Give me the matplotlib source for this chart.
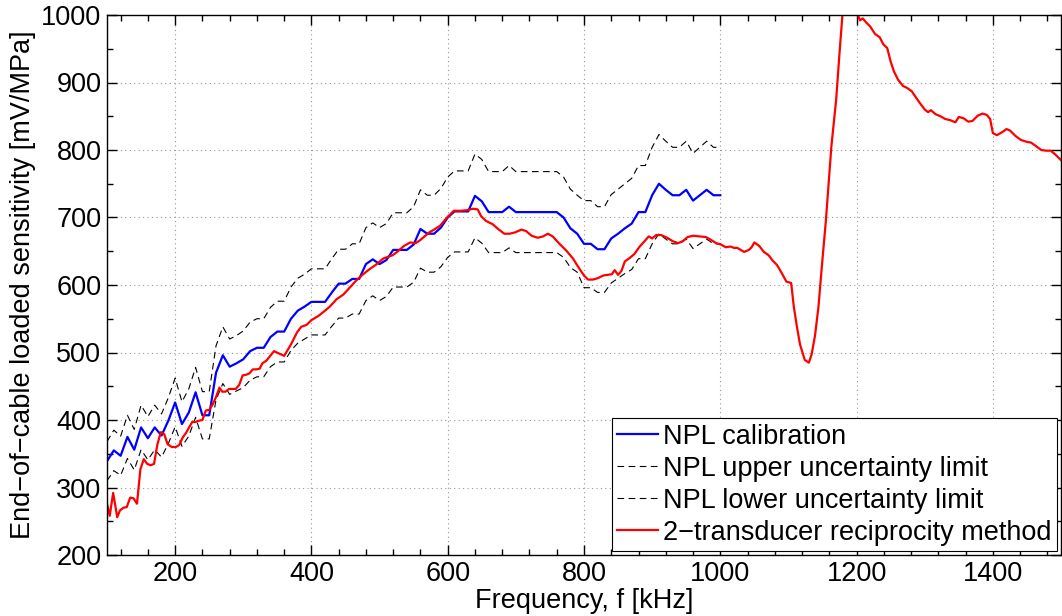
import numpy as np
import matplotlib
matplotlib.use("Agg")
import matplotlib.pyplot as plt
from matplotlib.ticker import MultipleLocator

plt.rcParams['font.family'] = ['Liberation Sans', 'DejaVu Sans']

# NPL calibration, every 10 kHz from 100 to 1000 kHz
npl_f = list(range(100, 1001, 10))
npl_cal = [339, 355, 347, 375, 356, 389, 373, 389, 377, 399,
           426, 394, 411, 441, 407, 407, 470, 496, 479, 484,
           490, 502, 507, 507, 523, 531, 531, 550, 562, 568,
           575, 575, 575, 589, 602, 602, 609, 609, 631, 638,
           631, 637, 652, 652, 652, 660, 683, 676, 676, 685,
           700, 709, 709, 709, 732, 724, 708, 708, 708, 716,
           708, 708, 708, 708, 708, 708, 708, 700, 684, 676,
           661, 661, 653, 653, 669, 676, 684, 691, 708, 708,
           733, 750, 741, 733, 733, 741, 725, 733, 741, 733,
           733]
npl_upper = [368, 385, 376, 407, 386, 422, 405, 422, 409, 433,
             462, 427, 446, 478, 442, 442, 510, 538, 520, 525,
             532, 545, 550, 550, 567, 576, 576, 597, 610, 616,
             624, 624, 624, 639, 653, 653, 661, 661, 685, 692,
             685, 691, 707, 707, 707, 716, 741, 733, 733, 743,
             760, 769, 769, 769, 794, 786, 768, 768, 768, 777,
             768, 768, 768, 768, 768, 768, 768, 760, 742, 733,
             725, 725, 716, 716, 734, 742, 750, 758, 777, 777,
             804, 823, 813, 804, 804, 813, 795, 804, 813, 804,
             804]
npl_lower = [310, 325, 318, 343, 326, 356, 341, 356, 345, 365,
             390, 361, 376, 404, 372, 372, 430, 454, 438, 443,
             448, 459, 464, 464, 479, 486, 486, 503, 514, 520,
             526, 526, 526, 539, 551, 551, 557, 557, 577, 584,
             577, 583, 597, 597, 597, 604, 625, 619, 619, 627,
             641, 649, 649, 649, 670, 662, 648, 648, 648, 655,
             648, 648, 648, 648, 648, 648, 648, 641, 626, 619,
             596, 596, 589, 589, 603, 610, 617, 623, 639, 639,
             661, 676, 668, 661, 661, 668, 654, 661, 668, 661,
             661]

# 2-transducer reciprocity method
recip_f = [100, 104, 109, 115, 119, 124, 129, 134, 139, 144,
           149, 154, 159, 164, 169, 174, 179, 184, 189, 195,
           201, 206, 211, 216, 220, 225, 230, 235, 240, 245,
           250, 255, 260, 265, 269, 274, 279, 289, 294, 299,
           304, 309, 314, 319, 324, 328, 334, 345, 360, 370,
           379, 385, 393, 400, 410, 420, 427, 437, 447, 456,
           466, 476, 486, 496, 505, 513, 519, 527, 536, 545,
           553, 559, 566, 573, 580, 589, 599, 609, 620, 629,
           637, 644, 649, 656, 666, 674, 683, 691, 699, 708,
           715, 723, 732, 740, 747, 754, 764, 774, 784, 792,
           800, 806, 813, 820, 828, 835, 841, 845, 850, 855,
           860, 867, 874, 881, 889, 895, 900, 906, 913, 922,
           930, 938, 945, 952, 960, 969, 979, 986, 994, 1001,
           1008, 1015, 1020, 1025, 1030, 1035, 1042, 1046, 1050, 1057,
           1064, 1071, 1077, 1083, 1090, 1097, 1104, 1108, 1113, 1117,
           1124, 1130, 1134, 1139, 1144, 1149, 1155, 1163, 1170, 1175,
           1180, 1186, 1192, 1197, 1202, 1205, 1209, 1214, 1220, 1227,
           1234, 1239, 1245, 1250, 1255, 1261, 1268, 1274, 1281, 1287,
           1294, 1300, 1305, 1309, 1316, 1323, 1330, 1338, 1345, 1350,
           1357, 1364, 1370, 1378, 1385, 1391, 1396, 1400, 1406, 1413,
           1420, 1425, 1433, 1441, 1450, 1456, 1463, 1471, 1478, 1485,
           1492, 1500]
recip = [276, 258, 292, 256, 266, 270, 271, 285, 284, 276,
         327, 342, 335, 333, 335, 364, 382, 379, 364, 360,
         360, 363, 374, 381, 388, 397, 397, 399, 400, 414,
         415, 423, 434, 448, 442, 442, 446, 446, 452, 466,
         467, 469, 475, 475, 476, 484, 488, 502, 495, 512,
         530, 538, 541, 548, 554, 562, 568, 579, 586, 596,
         607, 616, 624, 631, 639, 642, 644, 650, 658, 663,
         662, 666, 672, 678, 682, 688, 700, 710, 710, 711,
         713, 712, 702, 695, 690, 683, 676, 676, 678, 682,
         680, 673, 670, 672, 676, 672, 661, 651, 639, 626,
         614, 608, 608, 610, 614, 615, 616, 622, 615, 621,
         635, 640, 646, 656, 665, 672, 669, 674, 674, 670,
         665, 662, 665, 671, 673, 672, 671, 667, 662, 660,
         656, 657, 655, 655, 652, 649, 652, 656, 663, 658,
         649, 644, 636, 630, 618, 605, 603, 567, 535, 512,
         489, 485, 497, 525, 567, 627, 696, 805, 874, 944,
         1010, 1060, 1070, 1040, 1000, 992, 995, 989, 983, 972,
         967, 957, 951, 931, 916, 904, 895, 892, 887, 878,
         868, 860, 856, 859, 853, 850, 846, 844, 841, 849,
         847, 842, 843, 851, 854, 852, 846, 825, 822, 826,
         831, 829, 821, 815, 812, 811, 806, 800, 799, 799,
         793, 785]

fig = plt.figure(figsize=(10.62, 6.16), dpi=100)
ax = fig.add_axes([107 / 1062, 61 / 616, 954 / 1062, 540 / 616])

ax.plot(npl_f, npl_cal, color='#0000ff', lw=1.6, label='NPL calibration')
ax.plot(npl_f, npl_upper, color='black', lw=0.8, ls=(0, (6, 4)),
        label='NPL upper uncertainty limit')
ax.plot(npl_f, npl_lower, color='black', lw=0.8, ls=(0, (6, 4)),
        label='NPL lower uncertainty limit')
ax.plot(recip_f, recip, color='#ff0000', lw=1.6,
        label='2\u2212transducer reciprocity method')

ax.set_xlim(100, 1500)
ax.set_ylim(200, 1000)
ax.xaxis.set_major_locator(MultipleLocator(200))
ax.xaxis.set_minor_locator(MultipleLocator(40))
ax.yaxis.set_major_locator(MultipleLocator(100))
ax.yaxis.set_minor_locator(MultipleLocator(50))
ax.tick_params(which='both', direction='in', top=True, right=True,
               labelsize=19.5, width=1, pad=4)
ax.tick_params(which='major', length=7)
ax.tick_params(which='minor', length=4)
ax.grid(True, which='major', ls=(0, (1, 3)), color='0.6', lw=0.8)
for s in ax.spines.values():
    s.set_linewidth(1)

ax.set_xlabel('Frequency, f [kHz]', fontsize=19.5, labelpad=1)
ax.set_ylabel('End\u2212of\u2212cable loaded sensitivity [mV/MPa]',
              fontsize=19.5, labelpad=4)

leg = ax.legend(loc='lower right', fontsize=19.5, frameon=True, fancybox=False,
                edgecolor='black', framealpha=1, handlelength=1.5,
                handletextpad=0.2, labelspacing=0.22, borderpad=0.2,
                borderaxespad=0.15)
leg.get_frame().set_linewidth(0.8)

fig.savefig('out.png', dpi=100)
